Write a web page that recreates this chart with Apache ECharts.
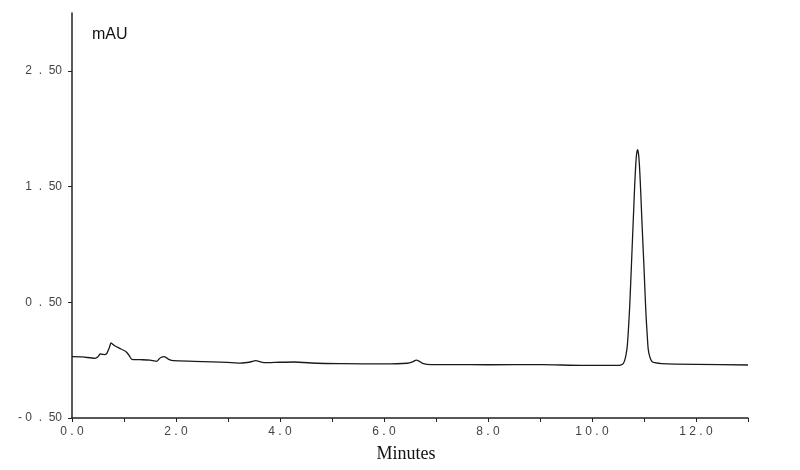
<!DOCTYPE html>
<html>
<head>
<meta charset="utf-8">
<script src="https://cdn.jsdelivr.net/npm/echarts@6/dist/echarts.min.js"></script>
<style>html,body{margin:0;padding:0;background:#fff}#c{width:800px;height:470px}</style>
</head>
<body>
<div id="c"></div>
<script>
// Retention time (minutes)
var times = [0.00,0.20,0.44,0.50,0.54,0.60,0.62,0.67,0.72,0.75,0.79,0.83,0.88,0.93,0.98,1.04,1.10,1.15,1.31,1.50,1.63,1.67,1.70,1.77,1.82,1.86,1.95,2.34,2.70,2.98,3.24,3.43,3.53,3.69,4.00,4.27,4.72,5.20,6.00,6.45,6.55,6.62,6.68,6.74,6.90,7.29,8.00,9.03,9.80,10.50,10.56,10.60,10.63,10.66,10.68,10.70,10.72,10.74,10.76,10.78,10.80,10.82,10.84,10.86,10.88,10.90,10.92,10.94,10.96,10.98,11.00,11.02,11.04,11.06,11.08,11.11,11.15,11.21,11.34,12.00,13.00];
// Absorbance (mAU)
var absorbance = [0.030,0.028,0.016,0.030,0.053,0.050,0.047,0.059,0.110,0.150,0.135,0.122,0.110,0.099,0.088,0.073,0.040,0.007,0.004,0.000,-0.010,0.008,0.021,0.030,0.020,0.007,-0.005,-0.010,-0.015,-0.019,-0.025,-0.016,-0.005,-0.022,-0.018,-0.016,-0.027,-0.030,-0.033,-0.027,-0.015,0.001,-0.010,-0.027,-0.039,-0.039,-0.040,-0.039,-0.045,-0.045,-0.040,-0.030,0.000,0.060,0.130,0.260,0.420,0.620,0.840,1.060,1.280,1.500,1.680,1.790,1.820,1.760,1.620,1.420,1.200,1.000,0.800,0.580,0.380,0.230,0.100,0.030,-0.010,-0.022,-0.030,-0.037,-0.042];
var xTicks = [0,1,2,3,4,5,6,7,8,9,10,11,12,13];
var xLabels = [0,2,4,6,8,10,12];
var yTicks = [-0.5,0.5,1.5,2.5];
var yLabelText = {"-0.5":"- 0  .  50","0.5":"0  .  50","1.5":"1  .  50","2.5":"2  .  50"};
var yAxisTitle = "mAU";
var xAxisTitle = "Minutes";

var pts = times.map(function(t,i){return [t, absorbance[i]];});
var chart = echarts.init(document.getElementById('c'), null, {renderer:'canvas'});
chart.setOption({
  animation:false,
  backgroundColor:'#fff',
  grid:{left:72,right:52,top:13,bottom:52,containLabel:false},
  xAxis:{
    type:'value',min:0,max:13,interval:1,
    axisLine:{show:true,onZero:false,lineStyle:{color:'#222',width:1.5}},
    axisTick:{show:true,length:4,customValues:xTicks,lineStyle:{color:'#222',width:1}},
    axisLabel:{customValues:xLabels,margin:8,color:'#444',fontFamily:'Liberation Sans, Arial, sans-serif',fontSize:12,
      formatter:function(v){return v.toFixed(1).split('').join(' ');}},
    splitLine:{show:false}
  },
  yAxis:{
    type:'value',min:-0.5,max:3.0,interval:1,
    axisLine:{show:true,onZero:false,lineStyle:{color:'#222',width:1.5}},
    axisTick:{show:true,length:4,customValues:yTicks,lineStyle:{color:'#222',width:1}},
    axisLabel:{customValues:yTicks,margin:10,color:'#444',fontFamily:'Liberation Sans, Arial, sans-serif',fontSize:12,
      formatter:function(v){return yLabelText[String(Math.round(v*10)/10)] || '';}},
    splitLine:{show:false}
  },
  graphic:[
    {type:'text',left:92,top:27,style:{text:yAxisTitle,fill:'#111',font:'16px "Liberation Sans", Arial, sans-serif'}},
    {type:'text',x:406,y:454,style:{text:xAxisTitle,fill:'#111',font:'18px "Liberation Serif", "Times New Roman", serif',textAlign:'center',textVerticalAlign:'middle'}}
  ],
  series:[{
    type:'line',data:pts,showSymbol:false,symbol:'none',smooth:0.2,
    lineStyle:{color:'#1a1a1a',width:1.3}
  }]
});
</script>
</body>
</html>
